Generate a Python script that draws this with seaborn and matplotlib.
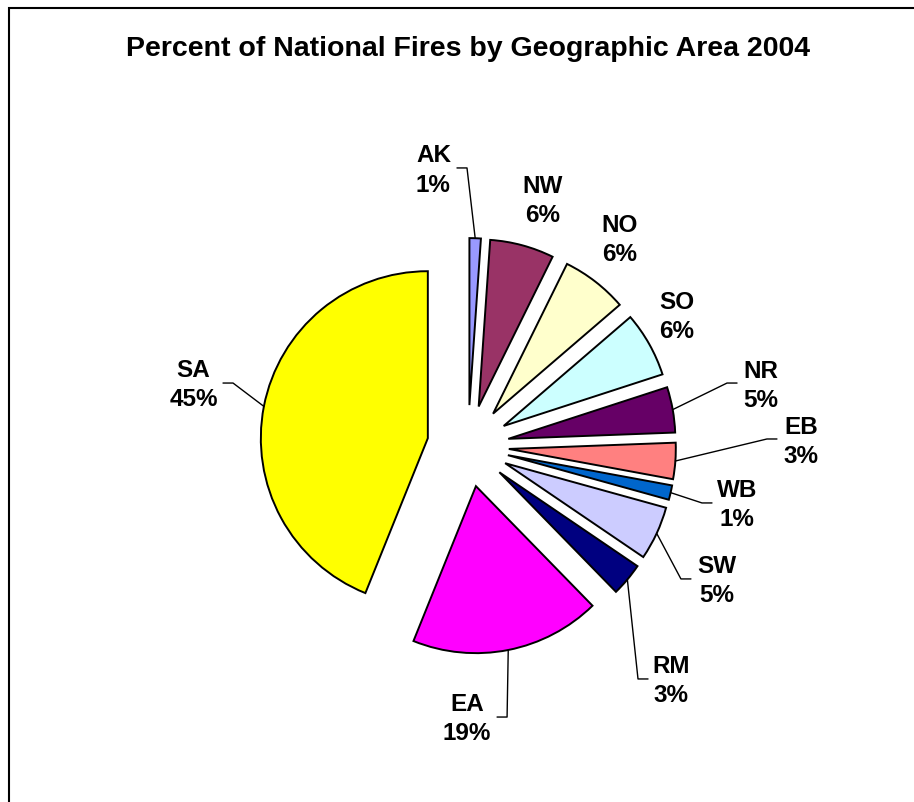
import matplotlib
matplotlib.use("Agg")
import numpy as np
import matplotlib.pyplot as plt
import seaborn as sns
from matplotlib.patches import Rectangle

# %%
# Share of national fires by geographic area
areas = ["AK", "NW", "NO", "SO", "NR", "EB", "WB", "SW", "RM", "EA", "SA"]
shares = [1.1, 6.2, 6.4, 6.3, 4.4, 3.5, 1.4, 5.2, 3.2, 18.4, 43.9]
pct_labels = ["1%", "6%", "6%", "6%", "5%", "3%", "1%", "5%", "3%", "19%", "45%"]

# Excel default chart palette
colors = ["#9999FF", "#993366", "#FFFFCC", "#CCFFFF", "#660066", "#FF8080",
          "#0066CC", "#CCCCFF", "#000080", "#FF00FF", "#FFFF00"]

# label block centres (data units, pie radius = 1)
label_pos = {
    "AK": (-0.207, 1.650), "NW": (0.449, 1.467), "NO": (0.910, 1.234),
    "SO": (1.251, 0.772), "NR": (1.754, 0.359), "EB": (1.994, 0.024),
    "WB": (1.611, -0.353), "SW": (1.491, -0.808), "RM": (1.216, -1.407),
    "EA": (-0.006, -1.635), "SA": (-1.644, 0.365),
}
# where leader lines leave the label text
leader_start = {
    "AK": (-0.066, 1.665), "SA": (-1.467, 0.377), "NR": (1.611, 0.377),
    "EB": (1.850, 0.042), "WB": (1.461, -0.341), "SW": (1.335, -0.796),
    "RM": (1.078, -1.395), "EA": (0.174, -1.623),
}

# %%
sns.set_style("white")
plt.rcParams["font.family"] = ["Liberation Sans", "DejaVu Sans"]
plt.rcParams["text.color"] = "black"

W, H = 914, 802
scale = 167.0          # px per data unit
cx, cy = 468.0, 446.0  # pie centre in px
explode = [0.245] * len(shares)

fig = plt.figure(figsize=(W / 100, H / 100), dpi=100)
ax = fig.add_axes([0, 0, 1, 1])

wedges, _ = ax.pie(shares, colors=colors, explode=explode, startangle=90,
                   counterclock=False, radius=1.0,
                   wedgeprops=dict(edgecolor="black", linewidth=1.4))

ax.set_xlim(-cx / scale, (W - cx) / scale)
ax.set_ylim(-(H - cy) / scale, cy / scale)
ax.set_aspect("equal", adjustable="box")
ax.axis("off")

for w, name, pct in zip(wedges, areas, pct_labels):
    lx, ly = label_pos[name]
    ax.text(lx, ly, f"{name}\n{pct}", ha="center", va="center", color="black",
            fontsize=17.5, fontweight="bold", linespacing=1.35)
    if name in leader_start:
        mid = np.deg2rad((w.theta1 + w.theta2) / 2)
        ex = w.center[0] + w.r * np.cos(mid)
        ey = w.center[1] + w.r * np.sin(mid)
        sx, sy = leader_start[name]
        elbow_x = sx + 0.06 * np.sign(ex - sx)
        ax.plot([sx, elbow_x, ex], [sy, sy, ey], color="black", lw=1.0)

fig.text(468 / W, 1 - 49 / H, "Percent of National Fires by Geographic Area 2004",
         ha="center", va="center", fontsize=20.5, fontweight="bold", color="black")

# chart area border (runs off the right and bottom edges)
fig.patches.append(Rectangle((9 / W, -0.1), 2, 1 - 8 / H + 0.1,
                             transform=fig.transFigure, fill=False,
                             edgecolor="black", linewidth=1.5))

fig.savefig("out.png", dpi=100)
